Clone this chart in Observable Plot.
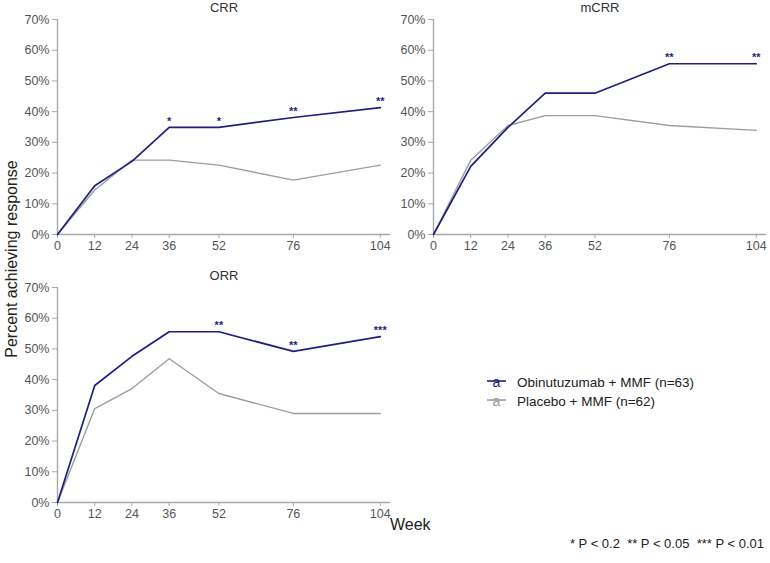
<!DOCTYPE html>
<html>
<head>
<meta charset="utf-8">
<script src="https://cdn.jsdelivr.net/npm/d3@7"></script>
<script src="https://cdn.jsdelivr.net/npm/@observablehq/plot@0.6"></script>
<style>
  html, body { margin: 0; padding: 0; background: #fff; }
  #wrap { position: relative; width: 770px; height: 563px; overflow: hidden; font-family: "Liberation Sans", Arial, Helvetica, sans-serif; }
  .panel { position: absolute; }
  #overlay { position: absolute; left: 0; top: 0; pointer-events: none; }
</style>
</head>
<body>
<div id="wrap"></div>
<script>
// ---- Data ----
const weeks = [0, 12, 24, 36, 52, 76, 104];
const yTicks = [0, 10, 20, 30, 40, 50, 60, 70];

const crrObin = [0, 15.9, 23.8, 34.9, 34.9, 38.1, 41.3];
const crrPlac = [0, 14.5, 24.2, 24.2, 22.6, 17.7, 22.6];
const crrStars = ["", "", "", "*", "*", "**", "**"];

const mcrrObin = [0, 22.2, 34.9, 46.0, 46.0, 55.6, 55.6];
const mcrrPlac = [0, 24.2, 35.5, 38.7, 38.7, 35.5, 33.9];
const mcrrStars = ["", "", "", "", "", "**", "**"];

const orrObin = [0, 38.1, 47.6, 55.6, 55.6, 49.2, 54.0];
const orrPlac = [0, 30.6, 37.1, 46.8, 35.5, 29.0, 29.0];
const orrStars = ["", "", "", "", "**", "**", "***"];

const seriesNames = ["Obinutuzumab + MMF (n=63)", "Placebo + MMF (n=62)"];
const footnote = "* P < 0.2  ** P < 0.05  *** P < 0.01";

// ---- Styles ----
const NAVY = "#1f1f80";
const GRAY = "#9d9d9d";
const AXIS = "#a8a8a8";
const TICKTXT = "#555555";
const FONT = "'Liberation Sans', Arial, Helvetica, sans-serif";

function panel(title, obin, plac, stars) {
  const dObin = weeks.map((w, i) => ({week: w, v: obin[i], s: stars[i]}));
  const dPlac = weeks.map((w, i) => ({week: w, v: plac[i]}));
  return Plot.plot({
    width: 400,
    height: 260,
    marginLeft: 57,
    marginRight: 10,
    marginTop: 19,
    marginBottom: 26,
    x: {domain: [0, 107.3]},
    y: {domain: [0, 70]},
    style: {fontFamily: FONT, fontSize: "12.5px", color: TICKTXT, background: "transparent", overflow: "visible"},
    marks: [
      Plot.ruleY([0], {stroke: AXIS, strokeWidth: 1.4}),
      Plot.ruleX([0], {y1: 0, y2: 70, stroke: AXIS, strokeWidth: 1.4}),
      Plot.axisX({ticks: weeks, tickSize: 4, tickPadding: 3, stroke: AXIS, fill: TICKTXT, label: null, fontSize: 12.5}),
      Plot.axisY({ticks: yTicks, tickFormat: d => d + "%", tickSize: 5, tickPadding: 3, stroke: AXIS, fill: TICKTXT, label: null, fontSize: 12.5}),
      Plot.line(dPlac, {x: "week", y: "v", stroke: GRAY, strokeWidth: 1.4}),
      Plot.line(dObin, {x: "week", y: "v", stroke: NAVY, strokeWidth: 1.7}),
      Plot.text(dObin.filter(d => d.s), {x: "week", y: "v", text: "s", fill: NAVY, fontSize: 11, fontWeight: "bold", dy: -6}),
      Plot.text([title], {frameAnchor: "top", lineAnchor: "middle", dy: -12, fill: "#333", fontSize: 13})
    ]
  });
}

const wrap = document.getElementById("wrap");
function place(el, left, top) {
  el.classList.add("panel");
  el.style.left = left + "px";
  el.style.top = top + "px";
  wrap.appendChild(el);
}
place(panel("CRR", crrObin, crrPlac, crrStars), 0, 0);
place(panel("mCRR", mcrrObin, mcrrPlac, mcrrStars), 376, 0);
place(panel("ORR", orrObin, orrPlac, orrStars), 0, 268);

// ---- Overlay text: axis titles, legend, footnote ----
const svg = d3.select(wrap).append("svg")
  .attr("id", "overlay").attr("width", 770).attr("height", 563)
  .style("font-family", FONT);

svg.append("text")
  .attr("transform", "translate(16.5,259) rotate(-90)")
  .attr("text-anchor", "middle")
  .attr("font-size", 16).attr("fill", "#222")
  .text("Percent achieving response");

svg.append("text")
  .attr("x", 390).attr("y", 530)
  .attr("font-size", 16).attr("fill", "#222")
  .text("Week");

const legColors = [NAVY, GRAY];
seriesNames.forEach((name, i) => {
  const y = 381 + i * 19;
  const g = svg.append("g");
  g.append("line").attr("x1", 487).attr("x2", 506).attr("y1", y).attr("y2", y)
    .attr("stroke", legColors[i]).attr("stroke-width", 1.6);
  g.append("text").attr("x", 496.5).attr("y", y + 5.5).attr("text-anchor", "middle")
    .attr("font-size", 14).attr("fill", legColors[i]).text("a");
  g.append("text").attr("x", 517).attr("y", y + 5.5)
    .attr("font-size", 13.5).attr("fill", "#222").text(name);
});

svg.append("text")
  .attr("x", 764).attr("y", 548).attr("text-anchor", "end")
  .attr("font-size", 13).attr("fill", "#222")
  .attr("xml:space", "preserve").style("white-space", "pre")
  .text(footnote);
</script>
</body>
</html>
